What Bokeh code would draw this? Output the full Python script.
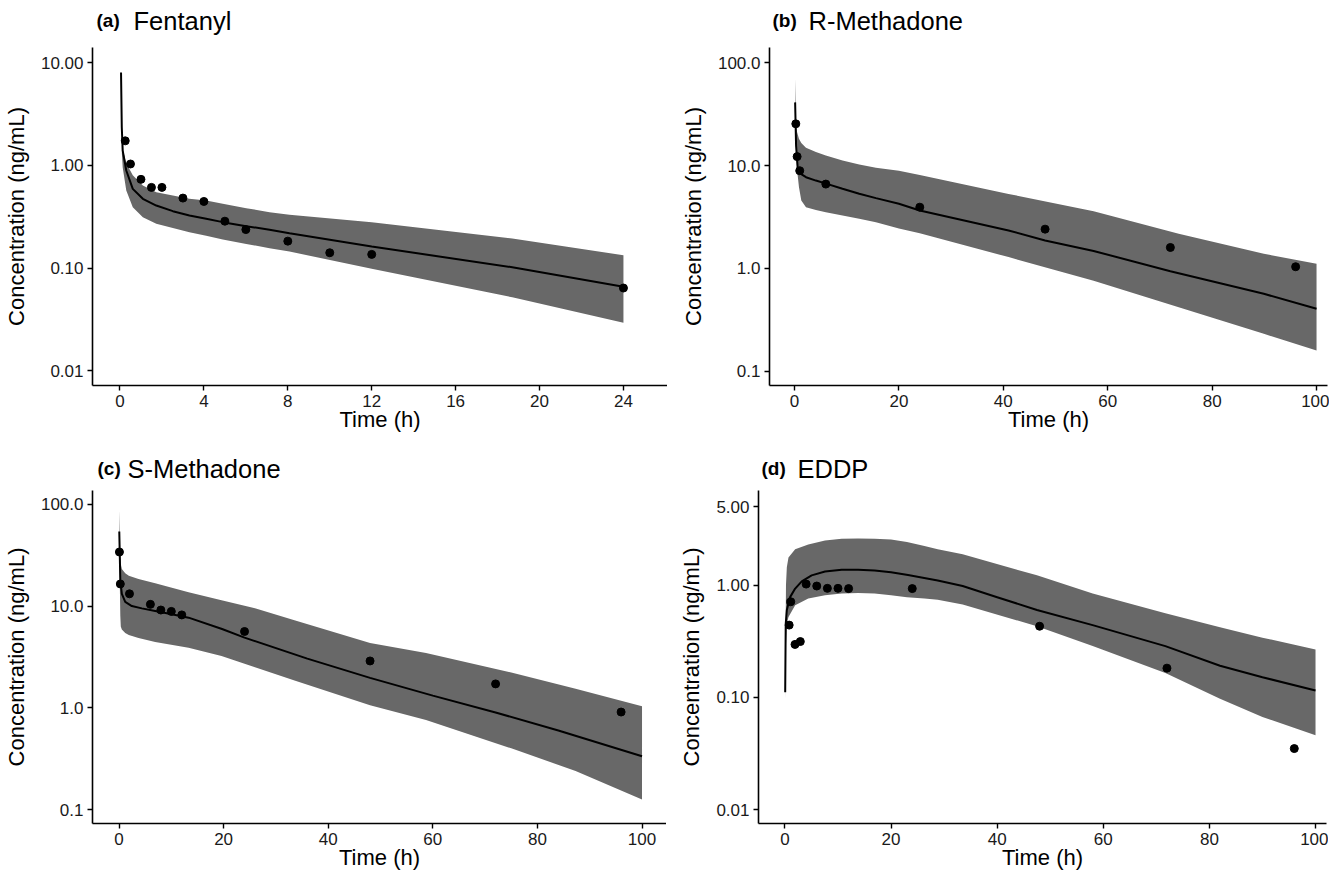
from bokeh.plotting import figure
from bokeh.layouts import column, row
from bokeh.models import FixedTicker, PrintfTickFormatter, Range1d
from bokeh.core.properties import value
from bokeh.embed import file_html
from bokeh.resources import INLINE

# ---------------- data ----------------
# (a) Fentanyl
fen_obs_t = [0.25, 0.5, 1, 1.5, 2, 3, 4, 5, 6, 8, 10, 12, 24]
fen_obs_c = [1.73, 1.03, 0.73, 0.61, 0.61, 0.48, 0.445, 0.286, 0.237, 0.183, 0.141, 0.136, 0.064]
fen_pred_t = [0.05, 0.086, 0.13, 0.3, 0.61, 1.09, 1.73, 2.52, 3.31, 4.11, 4.9, 6.02, 7.13, 8.08, 12, 18.7, 24]
fen_pred_c = [8.0, 2.35, 1.39, 0.89, 0.59, 0.472, 0.406, 0.358, 0.325, 0.302, 0.280, 0.256, 0.236, 0.218, 0.162, 0.102, 0.066]
fen_band_t = [0.09, 0.13, 0.3, 0.61, 1.09, 1.73, 2.52, 3.31, 4.11, 4.9, 6.02, 7.13, 8.08, 12, 18.7, 24]
fen_band_hi = [1.6, 1.45, 1.05, 0.80, 0.637, 0.547, 0.508, 0.472, 0.455, 0.423, 0.383, 0.350, 0.330, 0.280, 0.194, 0.133]
fen_band_lo = [1.3, 0.95, 0.57, 0.391, 0.313, 0.270, 0.245, 0.223, 0.207, 0.190, 0.172, 0.156, 0.145, 0.0984, 0.052, 0.0294]

# (b) R-Methadone
rmet_obs_t = [0.25, 0.5, 1, 6, 24, 48, 72, 96]
rmet_obs_c = [25.4, 12.2, 8.9, 6.6, 3.94, 2.41, 1.60, 1.04]
rmet_pred_t = [0.12, 0.3, 0.6, 1.06, 2.2, 4.1, 6.2, 9.2, 12.4, 15.6, 20, 24, 41, 48, 57.3, 72, 89.9, 100]
rmet_pred_c = [41, 15.6, 9.6, 8.4, 7.7, 7.14, 6.63, 5.94, 5.31, 4.82, 4.25, 3.66, 2.34, 1.87, 1.48, 0.94, 0.568, 0.406]
rmet_band_t = [0.12, 0.3, 0.5, 0.85, 1.3, 2.2, 4.1, 6.0, 9.2, 12.4, 15.6, 20, 24, 41, 57.3, 73.6, 89.9, 100]
rmet_band_hi = [70, 25, 21, 18.2, 16.5, 14.9, 13.5, 12.5, 11.2, 10.2, 9.5, 8.9, 8.1, 5.3, 3.6, 2.17, 1.39, 1.11]
rmet_band_lo = [28, 14, 9, 6.2, 4.57, 3.93, 3.7, 3.52, 3.27, 3.04, 2.82, 2.45, 2.2, 1.29, 0.76, 0.42, 0.232, 0.16]

# (c) S-Methadone
smet_obs_t = [0.08, 0.25, 2, 6, 8, 10, 12, 24, 48, 72, 96]
smet_obs_c = [34, 16.5, 13.2, 10.4, 9.15, 8.87, 8.19, 5.63, 2.89, 1.72, 0.91]
smet_pred_t = [0.05, 0.25, 0.54, 1.19, 2.45, 4.36, 6.92, 10.1, 13.3, 19.7, 24, 36, 48, 60, 72, 84, 100]
smet_pred_c = [54, 17.9, 13.2, 11.0, 10.0, 9.5, 8.95, 8.3, 7.7, 5.95, 4.9, 3.05, 1.97, 1.32, 0.9, 0.6, 0.335]
smet_band_t = [0.05, 0.25, 0.34, 0.54, 1.19, 1.87, 3.73, 6.92, 13.3, 19.6, 26, 33.7, 48, 58.7, 75, 87.3, 100]
smet_band_hi = [88, 30, 25.9, 23.1, 21, 19.9, 18.5, 16.8, 13.7, 11.4, 9.5, 7.2, 4.35, 3.47, 2.23, 1.54, 1.04]
smet_band_lo = [35, 8, 6.3, 5.9, 5.43, 5.2, 4.86, 4.44, 3.89, 3.23, 2.5, 1.85, 1.06, 0.76, 0.40, 0.24, 0.126]

# (d) EDDP
eddp_obs_t = [0.8, 1.1, 1.9, 2.9, 4, 6, 8, 10, 12, 24, 48, 72, 96]
eddp_obs_c = [0.44, 0.71, 0.296, 0.314, 1.02, 0.98, 0.935, 0.935, 0.93, 0.93, 0.43, 0.182, 0.035]
eddp_pred_t = [0.05, 0.15, 0.36, 1.0, 1.93, 3.17, 5.04, 7.56, 10.7, 13.8, 16.9, 20, 23.2, 28.8, 33.5, 40, 47.5, 58, 71.7, 82, 90, 100]
eddp_pred_c = [0.111, 0.45, 0.60, 0.785, 0.93, 1.08, 1.22, 1.32, 1.37, 1.37, 1.35, 1.30, 1.23, 1.10, 0.98, 0.78, 0.60, 0.44, 0.286, 0.191, 0.151, 0.115]
eddp_band_t = [0.05, 0.2, 0.36, 0.67, 1.93, 4.4, 7.56, 10.7, 13.8, 16.9, 20, 23, 26.3, 28.8, 33.5, 47.5, 58, 71.7, 82, 90, 100]
eddp_band_hi = [0.125, 1.0, 1.44, 1.76, 2.08, 2.30, 2.49, 2.58, 2.60, 2.59, 2.55, 2.42, 2.23, 2.08, 1.88, 1.22, 0.84, 0.56, 0.42, 0.34, 0.267]
eddp_band_lo = [0.097, 0.3, 0.45, 0.52, 0.66, 0.76, 0.81, 0.84, 0.85, 0.84, 0.81, 0.78, 0.76, 0.74, 0.67, 0.43, 0.286, 0.165, 0.097, 0.067, 0.046]

# tick values
ticks_a = [0.01, 0.1, 1, 10]
ticks_bc = [0.1, 1, 10, 100]
ticks_d = [0.01, 0.1, 1, 5]
xticks_a = [0, 4, 8, 12, 16, 20, 24]
xticks_100 = [0, 20, 40, 60, 80, 100]

panel_tags = ["(a)", "(b)", "(c)", "(d)"]
panel_names = ["Fentanyl", "R-Methadone", "S-Methadone", "EDDP"]

FONT = "Liberation Sans"
BAND = "#686868"
TXT = "#1a1a1a"


def header(width, height, tag, name, tag_x, name_x, base_y):
    h = figure(width=width, height=height, output_backend="svg", toolbar_location=None,
               x_range=Range1d(0, width), y_range=Range1d(height, 0),
               x_axis_type=None, y_axis_type=None, title=None,
               min_border_left=0, min_border_right=0, min_border_top=0, min_border_bottom=0)
    h.outline_line_color = None
    h.grid.visible = False
    h.text(x=[tag_x], y=[base_y], text=[tag], text_font=value(FONT), text_font_size="19px",
           text_font_style="bold", text_color="black", text_baseline="alphabetic")
    h.text(x=[name_x], y=[base_y], text=[name], text_font=value(FONT), text_font_size="25.5px",
           text_color="black", text_baseline="alphabetic")
    return h


def panel(frame_w, frame_h, bl, br, bb, xr, yr, xticks, yticks, yfmt,
          band_t, band_lo, band_hi, pred_t, pred_c, obs_t, obs_c):
    p = figure(frame_width=frame_w, frame_height=frame_h, output_backend="svg",
               toolbar_location=None, title=None,
               x_range=Range1d(*xr), y_range=Range1d(*yr), y_axis_type="log",
               min_border_left=bl, min_border_top=0, min_border_bottom=bb,
               min_border_right=br)
    p.outline_line_color = None
    p.grid.visible = False
    p.background_fill_color = "white"
    p.border_fill_color = "white"

    p.varea(x=band_t, y1=band_lo, y2=band_hi, fill_color=BAND, fill_alpha=1.0)
    p.line(pred_t, pred_c, line_color="black", line_width=2)
    p.scatter(obs_t, obs_c, size=8, fill_color="black", line_color="black")

    for ax in (p.xaxis[0], p.yaxis[0]):
        ax.axis_line_color = "black"
        ax.axis_line_width = 1.6
        ax.major_tick_line_color = "black"
        ax.major_tick_line_width = 1.4
        ax.major_tick_out = 5
        ax.major_tick_in = 0
        ax.minor_tick_line_color = None
        ax.major_label_text_font = FONT
        ax.major_label_text_font_size = "17px"
        ax.major_label_text_color = TXT
        ax.axis_label_text_font = FONT
        ax.axis_label_text_font_size = "22px"
        ax.axis_label_text_font_style = "normal"
        ax.axis_label_text_color = "black"

    p.xaxis.ticker = FixedTicker(ticks=xticks)
    p.yaxis.ticker = FixedTicker(ticks=yticks)
    p.yaxis.formatter = PrintfTickFormatter(format=yfmt)
    p.xaxis.axis_label = "Time (h)"
    p.yaxis.axis_label = "Concentration (ng/mL)"
    p.xaxis.major_label_standoff = 4
    p.xaxis.axis_label_standoff = -3
    p.yaxis.major_label_standoff = 4
    p.yaxis.axis_label_standoff = 9
    return p


H1, F1, B1 = 47, 338, 50
H2, F2, B2 = 55, 333, 50

ha = header(660, H1, panel_tags[0], panel_names[0], 96, 133, 20)
hb = header(662, H1, panel_tags[1], panel_names[1], 112, 148, 20)
hc = header(660, H2, panel_tags[2], panel_names[2], 97, 127, 33)
hd = header(662, H2, panel_tags[3], panel_names[3], 101, 137, 33)

pa = panel(575, F1, 85, 0, B1, (-1.31, 26.1), (0.00721, 14.0), xticks_a, ticks_a, "%.2f",
           fen_band_t, fen_band_lo, fen_band_hi, fen_pred_t, fen_pred_c, fen_obs_t, fen_obs_c)
pb = panel(558, F1, 102, 2, B1, (-4.79, 102.1), (0.0731, 139.9), xticks_100, ticks_bc, "%.1f",
           rmet_band_t, rmet_band_lo, rmet_band_hi, rmet_pred_t, rmet_pred_c, rmet_obs_t, rmet_obs_c)
pc = panel(574, F2, 86, 0, B2, (-5.07, 104.68), (0.0731, 136.7), xticks_100, ticks_bc, "%.1f",
           smet_band_t, smet_band_lo, smet_band_hi, smet_pred_t, smet_pred_c, smet_obs_t, smet_obs_c)
pd_ = panel(568, F2, 92, 2, B2, (-4.98, 102.07), (0.00753, 6.95), xticks_100, ticks_d, "%.2f",
            eddp_band_t, eddp_band_lo, eddp_band_hi, eddp_pred_t, eddp_pred_c, eddp_obs_t, eddp_obs_c)

layout = column(row(ha, hb), row(pa, pb), row(hc, hd), row(pc, pd_))
open("out.html", "w").write(file_html(layout, INLINE))
